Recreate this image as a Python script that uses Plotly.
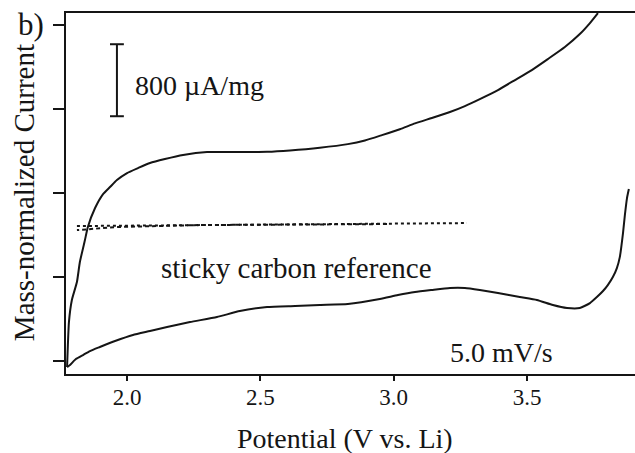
import plotly.graph_objects as go

# Anodic (upper) branch: potential (V vs Li), current (uA/mg, arbitrary zero)
up_v = [1.775, 1.778, 1.782, 1.793, 1.812, 1.823, 1.842, 1.853, 1.880, 1.910, 1.936, 1.962,
        2.000, 2.041, 2.086, 2.142, 2.210, 2.300, 2.423, 2.525, 2.611, 2.723, 2.828, 2.892,
        2.956, 3.023, 3.080, 3.143, 3.211, 3.267, 3.323, 3.391, 3.455, 3.518, 3.578, 3.642,
        3.698, 3.736, 3.766]
up_i = [-67, 178, 433, 678, 878, 1100, 1344, 1489, 1700, 1855, 1933, 2011,
        2089, 2144, 2200, 2244, 2289, 2322, 2322, 2325, 2340, 2370, 2410, 2450,
        2510, 2575, 2640, 2700, 2767, 2833, 2911, 3011, 3122, 3233, 3355, 3489,
        3633, 3755, 3866]

# Cathodic (lower) branch
dn_v = [3.882, 3.875, 3.867, 3.860, 3.848, 3.837, 3.822, 3.803, 3.785, 3.762, 3.736, 3.698,
        3.650, 3.597, 3.537, 3.473, 3.391, 3.323, 3.267, 3.211, 3.143, 3.080, 3.016, 2.948,
        2.828, 2.723, 2.630, 2.525, 2.423, 2.337, 2.236, 2.150, 2.086, 2.022, 1.955, 1.898,
        1.861, 1.835, 1.808, 1.786, 1.775]
dn_i = [1911, 1811, 1622, 1422, 1155, 1033, 933, 844, 778, 711, 644, 589,
        589, 622, 678, 711, 755, 789, 811, 811, 789, 767, 733, 689,
        633, 622, 611, 600, 555, 489, 433, 378, 333, 289, 222, 156,
        111, 67, 22, -44, -67]

# Sticky carbon reference (forward and return)
ref_fwd_v = [1.812, 2.273, 2.648, 3.275]
ref_fwd_i = [1500, 1511, 1522, 1533]
ref_ret_v = [2.975, 2.273, 1.962, 1.812]
ref_ret_i = [1522, 1511, 1489, 1455]

x_ticks = [2.0, 2.5, 3.0, 3.5]
x_tick_text = ["2.0", "2.5", "3.0", "3.5"]
y_ticks = [0, 933, 1867, 2800, 3733]

scale_bar = [2720, 3520]  # 800 uA/mg

FONT = "Liberation Serif"
INK = "#151515"

fig = go.Figure()
fig.add_trace(go.Scatter(x=up_v, y=up_i, mode="lines",
                         line=dict(color=INK, width=2, shape="spline", smoothing=0.5),
                         showlegend=False))
fig.add_trace(go.Scatter(x=dn_v, y=dn_i, mode="lines",
                         line=dict(color=INK, width=2, shape="spline", smoothing=0.5),
                         showlegend=False))
fig.add_trace(go.Scatter(x=ref_fwd_v, y=ref_fwd_i, mode="lines",
                         line=dict(color=INK, width=2, dash="3px,3px"), showlegend=False))
fig.add_trace(go.Scatter(x=ref_ret_v, y=ref_ret_i, mode="lines",
                         line=dict(color=INK, width=2, dash="4px,3px"), showlegend=False))

# scale bar
bx = 1.962
cap = 0.026
fig.add_shape(type="line", x0=bx, x1=bx, y0=scale_bar[0], y1=scale_bar[1],
              line=dict(color=INK, width=2))
for yy in scale_bar:
    fig.add_shape(type="line", x0=bx - cap, x1=bx + cap, y0=yy, y1=yy,
                  line=dict(color=INK, width=2))

fig.add_annotation(x=2.022, y=3066, xref="x", yref="y", text="800 µA/mg",
                   showarrow=False, xanchor="left", yanchor="middle",
                   font=dict(family=FONT, size=28, color=INK))
fig.add_annotation(x=2.637, y=1033, xref="x", yref="y", text="sticky carbon reference",
                   showarrow=False, xanchor="center", yanchor="middle",
                   font=dict(family=FONT, size=29, color=INK))
fig.add_annotation(x=3.406, y=100, xref="x", yref="y", text="5.0 mV/s",
                   showarrow=False, xanchor="center", yanchor="middle",
                   font=dict(family=FONT, size=28, color=INK))
fig.add_annotation(x=-0.0615, y=0.967, xref="paper", yref="paper", text="b)",
                   showarrow=False, xanchor="center", yanchor="middle",
                   font=dict(family=FONT, size=31, color=INK))
fig.add_annotation(x=-0.0738, y=0.501, xref="paper", yref="paper",
                   text="Mass-normalized Current", textangle=-90,
                   showarrow=False, xanchor="center", yanchor="middle",
                   font=dict(family=FONT, size=29, color=INK))
fig.add_annotation(x=0.490, y=-0.18, xref="paper", yref="paper",
                   text="Potential (V vs. Li)",
                   showarrow=False, xanchor="center", yanchor="middle",
                   font=dict(family=FONT, size=28, color=INK))

fig.update_layout(
    width=635, height=453,
    margin=dict(l=66, r=0, t=13, b=79, autoexpand=False),
    paper_bgcolor="white", plot_bgcolor="white",
    font=dict(family=FONT, color=INK),
    xaxis=dict(range=[1.771, 3.905], showline=True, linewidth=2, linecolor=INK,
               mirror=True, ticks="outside", ticklen=5, tickwidth=2, tickcolor=INK,
               tickvals=x_ticks, ticktext=x_tick_text, ticklabelstandoff=-4,
               tickfont=dict(family=FONT, size=23, color=INK),
               showgrid=False, zeroline=False, automargin=False),
    yaxis=dict(range=[-144, 3867], showline=True, linewidth=2, linecolor=INK,
               ticks="outside", ticklen=11, tickwidth=2, tickcolor=INK,
               tickvals=y_ticks, showticklabels=False,
               showgrid=False, zeroline=False, automargin=False),
)

fig.write_html("out.html", config={"displayModeBar": False},
               post_script="document.body.style.margin='0';document.body.style.overflow='hidden';")
